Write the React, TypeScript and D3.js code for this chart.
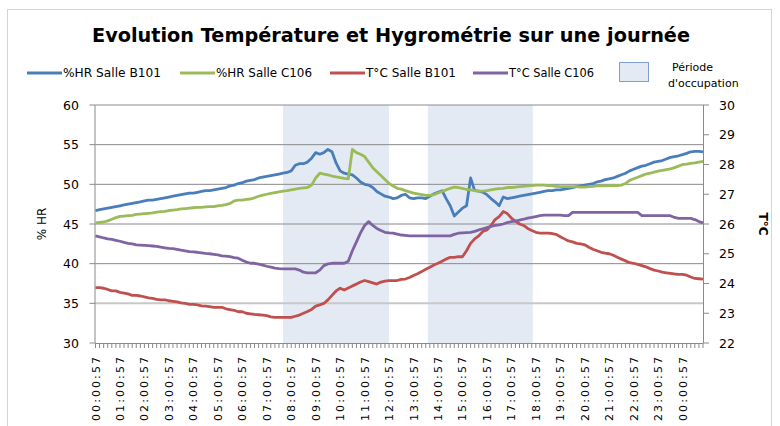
import * as d3 from "d3";

// 10-minute samples, index 0 = 00:00:57, index 149 = 00:50:57 (next day)
const hrB101 = [
  46.7, 46.8, 46.9, 47.0, 47.1, 47.2,
  47.3, 47.4, 47.5, 47.6, 47.7, 47.8,
  47.9, 48.0, 48.0, 48.1, 48.2, 48.3,
  48.4, 48.5, 48.6, 48.7, 48.8, 48.9,
  48.9, 49.0, 49.1, 49.2, 49.2, 49.3,
  49.4, 49.5, 49.6, 49.8, 49.9, 50.1,
  50.2, 50.4, 50.5, 50.6, 50.8, 50.9,
  51.0, 51.1, 51.2, 51.3, 51.4, 51.5,
  51.7, 52.4, 52.6, 52.6, 52.8, 53.3,
  54.0, 53.8, 54.0, 54.4, 54.1, 52.7,
  51.7, 51.4, 51.3, 51.2, 50.8, 50.3,
  50.0, 49.9, 49.6, 49.1, 48.8, 48.5,
  48.4, 48.2, 48.3, 48.6, 48.75, 48.3,
  48.2, 48.3, 48.3, 48.2, 48.5, 48.8,
  49.0, 49.2, 48.2, 47.3, 46.0, 46.5,
  47.0, 47.3, 50.8, 49.2, 49.15, 49.0,
  48.7, 48.2, 47.8, 47.3, 48.4, 48.2,
  48.3, 48.4, 48.5, 48.6, 48.7, 48.8,
  48.9, 49.0, 49.1, 49.2, 49.2, 49.3,
  49.3, 49.4, 49.5, 49.6, 49.7, 49.8,
  49.9, 50.0, 50.1, 50.3, 50.4, 50.6,
  50.7, 50.8, 51.0, 51.2, 51.4, 51.7,
  51.9, 52.1, 52.3, 52.4, 52.6, 52.8,
  52.9, 53.0, 53.2, 53.4, 53.5, 53.6,
  53.75, 53.9, 54.1, 54.15, 54.15, 54.1,
];

const hrC106 = [
  45.15, 45.2, 45.25, 45.4, 45.6, 45.8,
  45.95, 46.0, 46.05, 46.1, 46.2, 46.25,
  46.3, 46.35, 46.4, 46.5, 46.55, 46.6,
  46.7, 46.75, 46.8, 46.9, 46.95, 47.0,
  47.05, 47.1, 47.1, 47.15, 47.2, 47.2,
  47.3, 47.35, 47.45, 47.6, 47.9, 48.0,
  48.0, 48.1, 48.15, 48.3, 48.5, 48.65,
  48.75, 48.85, 48.95, 49.05, 49.15, 49.2,
  49.3, 49.4, 49.5, 49.55, 49.6, 49.9,
  50.8, 51.4, 51.3, 51.2, 51.05, 50.95,
  50.85, 50.75, 50.7, 54.4, 54.0, 53.8,
  53.5, 52.8, 52.1, 51.6, 51.1, 50.6,
  50.1, 49.8, 49.5, 49.4, 49.2, 49.05,
  48.9, 48.8, 48.7, 48.6, 48.6, 48.7,
  48.9, 49.1, 49.3, 49.5, 49.65, 49.6,
  49.5, 49.35, 49.3, 49.2, 49.15, 49.15,
  49.2, 49.3, 49.4, 49.45, 49.5, 49.6,
  49.6, 49.65, 49.7, 49.75, 49.8, 49.85,
  49.9, 49.9, 49.9, 49.85, 49.8, 49.75,
  49.7, 49.7, 49.7, 49.7, 49.7, 49.65,
  49.65, 49.7, 49.75, 49.8, 49.8, 49.8,
  49.85, 49.85, 49.85, 49.9, 50.1, 50.5,
  50.7, 50.9, 51.1, 51.3, 51.4, 51.55,
  51.65, 51.75, 51.85, 51.95, 52.1, 52.3,
  52.5, 52.55, 52.65, 52.7, 52.8, 52.9,
];

const tB101 = [
  23.86, 23.86, 23.84, 23.8, 23.75, 23.75,
  23.7, 23.68, 23.65, 23.6, 23.6, 23.58,
  23.55, 23.52, 23.5, 23.47, 23.45, 23.45,
  23.42, 23.4, 23.38, 23.35, 23.33, 23.3,
  23.3, 23.28, 23.25, 23.24, 23.22, 23.2,
  23.2, 23.2, 23.15, 23.12, 23.1, 23.05,
  23.05, 23.0, 22.98, 22.96, 22.95, 22.94,
  22.92, 22.88, 22.86, 22.86, 22.86, 22.86,
  22.86, 22.9, 22.94, 23.0, 23.06, 23.13,
  23.24, 23.28, 23.33, 23.45, 23.6, 23.75,
  23.84, 23.78, 23.85, 23.92, 23.98, 24.05,
  24.1, 24.06, 24.02, 23.98, 24.05, 24.08,
  24.1, 24.1, 24.1, 24.14, 24.15, 24.2,
  24.27, 24.33, 24.4, 24.48, 24.55, 24.62,
  24.68, 24.75, 24.82, 24.88, 24.88, 24.9,
  24.9, 25.1, 25.35, 25.5, 25.6, 25.75,
  25.8, 25.95, 26.15, 26.25, 26.42, 26.35,
  26.2, 26.1, 26.0, 25.95, 25.85, 25.78,
  25.72, 25.69, 25.69, 25.69, 25.68, 25.65,
  25.57, 25.5, 25.43, 25.4, 25.35, 25.33,
  25.3, 25.22, 25.15, 25.1, 25.05, 25.02,
  25.0, 24.95, 24.88, 24.82, 24.76, 24.7,
  24.68, 24.64, 24.6, 24.56, 24.5, 24.45,
  24.42, 24.38, 24.36, 24.34, 24.32, 24.31,
  24.31, 24.28, 24.22, 24.17, 24.16, 24.15,
];

const tC106 = [
  25.6, 25.57, 25.53, 25.5, 25.48, 25.45,
  25.42, 25.38, 25.35, 25.33, 25.3, 25.29,
  25.28, 25.27, 25.26, 25.25, 25.22, 25.2,
  25.18, 25.17, 25.15, 25.12, 25.1, 25.07,
  25.06, 25.05, 25.03, 25.01, 25.0, 24.98,
  24.96, 24.93, 24.92, 24.9, 24.87, 24.85,
  24.78, 24.72, 24.68, 24.68, 24.65, 24.62,
  24.58, 24.55, 24.52, 24.5, 24.49, 24.49,
  24.49, 24.49, 24.45, 24.38, 24.36, 24.36,
  24.36, 24.45, 24.6, 24.66, 24.68, 24.68,
  24.68, 24.68, 24.75, 25.1, 25.4, 25.7,
  25.95, 26.08, 25.95, 25.85, 25.78, 25.72,
  25.7, 25.69, 25.66, 25.63, 25.62, 25.6,
  25.6, 25.6, 25.6, 25.6, 25.6, 25.6,
  25.6, 25.6, 25.6, 25.6, 25.65, 25.69,
  25.7, 25.71, 25.72, 25.75, 25.8, 25.84,
  25.88, 25.92, 25.95, 25.97, 26.0, 26.05,
  26.08, 26.1, 26.13, 26.16, 26.2, 26.22,
  26.25, 26.28, 26.3, 26.3, 26.3, 26.3,
  26.3, 26.28, 26.28, 26.39, 26.39, 26.39,
  26.39, 26.39, 26.39, 26.39, 26.39, 26.39,
  26.39, 26.39, 26.39, 26.39, 26.39, 26.39,
  26.39, 26.39, 26.28, 26.28, 26.28, 26.28,
  26.28, 26.28, 26.28, 26.28, 26.22, 26.19,
  26.19, 26.19, 26.19, 26.15, 26.08, 26.04,
];

const hourLabels = [
  "00:00:57", "01:00:57", "02:00:57", "03:00:57", "04:00:57", "05:00:57",
  "06:00:57", "07:00:57", "08:00:57", "09:00:57", "10:00:57", "11:00:57",
  "12:00:57", "13:00:57", "14:00:57", "15:00:57", "16:00:57", "17:00:57",
  "18:00:57", "19:00:57", "20:00:57", "21:00:57", "22:00:57", "23:00:57",
  "00:00:57",
];

// occupation periods, in sample index (start, end)
const occupation = [
  [46, 72],
  [81.5, 107.25],
];

const hrTicks = [30, 35, 40, 45, 50, 55, 60];
const tempTicks = [22, 23, 24, 25, 26, 27, 28, 29, 30];

const seriesNames = ["%HR Salle B101", "%HR Salle C106", "T°C Salle B101", "T°C Salle C106"];
const seriesColors = ["#4a7ebb", "#9bbb59", "#c0504d", "#8064a2"];

const W = 780;
const H = 426;
const plot = { left: 95.5, right: 703, top: 105, bottom: 343 };
const font = "'DejaVu Sans', Verdana, sans-serif";

export default function App() {
  const n = hrB101.length;
  const x = d3.scaleLinear().domain([0, n - 1]).range([plot.left, plot.right]);
  const yHR = d3.scaleLinear().domain([30, 60]).range([plot.bottom, plot.top]);
  const yT = d3.scaleLinear().domain([22, 30]).range([plot.bottom, plot.top]);

  const lineHR = d3.line<number>().x((_, i) => x(i)).y((d) => yHR(d));
  const lineT = d3.line<number>().x((_, i) => x(i)).y((d) => yT(d));

  const paths = [lineHR(hrB101), lineHR(hrC106), lineT(tB101), lineT(tC106)];

  // legend entries: line start x, text width
  const legendX = [27, 180, 330, 473];
  const legendW = [98, 96, 90, 85];

  return (
    <svg width={W} height={H} style={{ position: "absolute", left: 0, top: 0, background: "#fff" }} fontFamily={font}>
      <rect x={7.5} y={9.5} width={764} height={430} fill="#fff" stroke="#d4d4d4" />

      <text x={391} y={42} textAnchor="middle" fontSize={19} fontWeight="bold" fill="#000"
        textLength={598} lengthAdjust="spacingAndGlyphs">
        Evolution Température et Hygrométrie sur une journée
      </text>

      {/* legend */}
      {seriesNames.map((name, k) => (
        <g key={name}>
          <line x1={legendX[k]} x2={legendX[k] + 35} y1={73} y2={73} stroke={seriesColors[k]} strokeWidth={3} />
          <text x={legendX[k] + 36} y={77} fontSize={11.5} fill="#000"
            textLength={legendW[k]} lengthAdjust="spacingAndGlyphs">{name}</text>
        </g>
      ))}
      <rect x={619.5} y={62.5} width={29} height={19} fill="#e4eaf4" stroke="#7f9fd1" />
      <text x={672} y={71} fontSize={11} fill="#000">Période</text>
      <text x={668} y={87} fontSize={11} fill="#000">d'occupation</text>

      {/* occupation bands */}
      {occupation.map(([a, b], k) => (
        <rect key={k} x={x(a)} y={plot.top} width={x(b) - x(a)} height={plot.bottom - plot.top} fill="#e4eaf4" />
      ))}

      {/* grid lines */}
      {hrTicks.slice(1).map((t) => (
        <line key={t} x1={plot.left} x2={plot.right} y1={yHR(t)} y2={yHR(t)}
          stroke={t === 35 ? "#c8c8c8" : "#8a8a8a"} strokeWidth={t === 35 ? 2 : 1} />
      ))}

      {/* left axis */}
      <line x1={plot.left - 0.5} x2={plot.left - 0.5} y1={plot.top} y2={plot.bottom} stroke="#8a8a8a" />
      {hrTicks.map((t) => (
        <g key={t}>
          <line x1={plot.left - 6} x2={plot.left} y1={yHR(t)} y2={yHR(t)} stroke="#8a8a8a" />
          <text x={79} y={yHR(t) + 4.5} textAnchor="end" fontSize={12.5} fill="#000">{t}</text>
        </g>
      ))}
      <text transform={`translate(46, ${(plot.top + plot.bottom) / 2}) rotate(-90)`} textAnchor="middle" fontSize={12} fill="#000">
        % HR
      </text>

      {/* right axis */}
      <line x1={plot.right + 0.5} x2={plot.right + 0.5} y1={plot.top} y2={plot.bottom} stroke="#8a8a8a" />
      {tempTicks.map((t) => (
        <g key={t}>
          <line x1={plot.right} x2={plot.right + 6} y1={yT(t)} y2={yT(t)} stroke="#8a8a8a" />
          <text x={719} y={yT(t) + 4.5} fontSize={12.5} fill="#000">{t}</text>
        </g>
      ))}
      <text transform={`translate(759, ${(plot.top + plot.bottom) / 2}) rotate(90)`} textAnchor="middle" fontSize={12} fontWeight="bold" fill="#000">
        T°C
      </text>

      {/* x axis */}
      <line x1={plot.left} x2={plot.right} y1={plot.bottom + 0.5} y2={plot.bottom + 0.5} stroke="#8a8a8a" />
      {d3.range(n).map((i) => (
        <line key={i} x1={x(i)} x2={x(i)} y1={plot.bottom} y2={plot.bottom + 5} stroke="#8a8a8a" />
      ))}
      {hourLabels.map((lab, k) => (
        <text key={k} transform={`translate(${x(k * 6) + 4}, 357) rotate(-90)`} textAnchor="end" fontSize={11}
          fill="#000" textLength={64} lengthAdjust="spacing">
          {lab}
        </text>
      ))}

      {/* series */}
      {paths.map((d, k) => (
        <path key={k} d={d || ""} fill="none" stroke={seriesColors[k]} strokeWidth={2.8} strokeLinejoin="round" />
      ))}
    </svg>
  );
}
